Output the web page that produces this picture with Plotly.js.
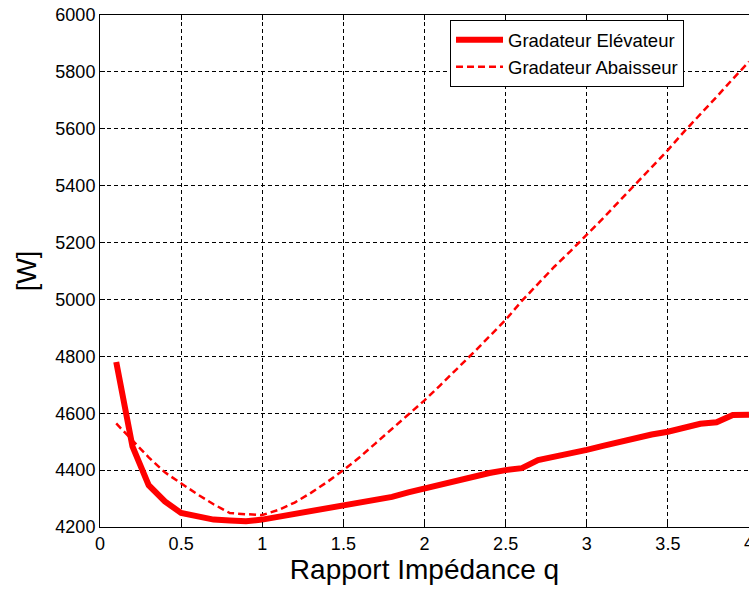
<!DOCTYPE html>
<html>
<head>
<meta charset="utf-8">
<script src="https://cdn.plot.ly/plotly-3.0.1.min.js"></script>
<style>html,body{margin:0;padding:0;background:#fff;}#chart{width:749px;height:589px;}</style>
</head>
<body>
<div id="chart"></div>
<script>
// Rapport Impédance q
const q = [0.1,0.2,0.3,0.4,0.5,0.6,0.7,0.8,0.9,1.0,
           1.1,1.2,1.3,1.4,1.5,1.6,1.7,1.8,1.9,2.0,
           2.1,2.2,2.3,2.4,2.5,2.6,2.7,2.8,2.9,3.0,
           3.1,3.2,3.3,3.4,3.5,3.6,3.7,3.8,3.9,4.0];
// Gradateur Elévateur [W]
const elevateur = [4780,4483,4347,4290,4249,4236,4226,4223,4220,4226,
                   4236,4249,4256,4265,4275,4287,4300,4306,4322,4336,
                   4346,4360,4375,4390,4400,4407,4435,4446,4458,4471,
                   4485,4500,4513,4525,4535,4550,4563,4568,4594,4595];
// Gradateur Abaisseur [W]
const abaisseur = [4564,4505,4445,4392,4352,4315,4280,4249,4245,4242,
                   4260,4286,4320,4358,4400,4445,4495,4545,4595,4645,
                   4700,4755,4812,4870,4928,4995,5055,5115,5170,5226,
                   5285,5345,5405,5465,5525,5590,5650,5712,5775,5836];
const xTicks = [0,0.5,1,1.5,2,2.5,3,3.5,4];
const xTickText = ['0','0.5','1','1.5','2','2.5','3','3.5','4'];
const yTicks = [4200,4400,4600,4800,5000,5200,5400,5600,5800,6000];

const traces = [
  {x:q, y:elevateur, name:'Gradateur Elévateur', mode:'lines',
   line:{color:'#ff0000', width:6}},
  {x:q, y:abaisseur, name:'Gradateur Abaisseur', mode:'lines',
   line:{color:'#ff0000', width:2.5, dash:'7px,4px'}}
];

const font = {family:'"Liberation Sans", Arial, sans-serif', color:'#000'};
const tickFont = Object.assign({size:18}, font);
// last tick label sits on the figure edge; draw it explicitly so it is clipped like the original
const edgeLabel = {x:xTicks[xTicks.length-1], y:0, xref:'x', yref:'paper',
                   text:xTickText[xTickText.length-1], showarrow:false,
                   xanchor:'center', yanchor:'top', yshift:-4, font:tickFont};
const layout = {
  width:749, height:589,
  margin:{l:100, r:0, t:15, b:62},
  paper_bgcolor:'#fff', plot_bgcolor:'#fff',
  font:Object.assign({size:18}, font),
  showlegend:true,
  legend:{x:0.5393, y:0.99, xanchor:'left', yanchor:'top',
          bgcolor:'#fff', bordercolor:'#000', borderwidth:1,
          itemwidth:47, font:Object.assign({size:18.5}, font),
          tracegroupgap:0},
  annotations:[edgeLabel],
  xaxis:{range:[0,4], tickvals:xTicks, ticktext:xTickText,
         showgrid:true, gridcolor:'#000', griddash:'4px,3px', gridwidth:1,
         zeroline:false, showline:true, linecolor:'#000', linewidth:1,
         mirror:'ticks', ticks:'inside', ticklen:5, tickcolor:'#000',
         tickfont:tickFont,
         title:{text:'Rapport Impédance q', font:Object.assign({size:28}, font), standoff:6}},
  yaxis:{range:[4200,6000], tickvals:yTicks,
         showgrid:true, gridcolor:'#000', griddash:'4px,3px', gridwidth:1,
         zeroline:false, showline:true, linecolor:'#000', linewidth:1,
         ticks:'inside', ticklen:5, tickcolor:'#000',
         tickfont:tickFont,
         title:{text:'[W]', font:Object.assign({size:27}, font), standoff:10}}
};
Plotly.newPlot('chart', traces, layout, {displayModeBar:false, staticPlot:true});
</script>
</body>
</html>
